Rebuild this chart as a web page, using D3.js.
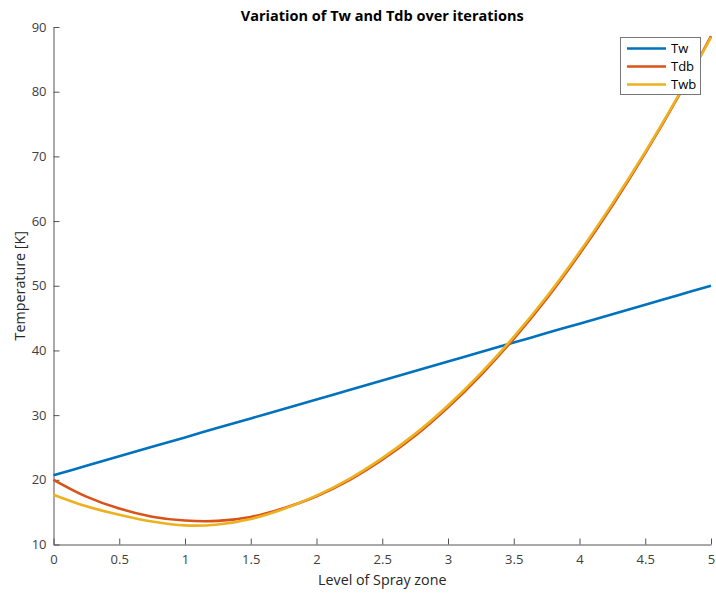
<!DOCTYPE html>
<html><head><meta charset="utf-8">
<script src="https://cdn.jsdelivr.net/npm/d3@7"></script>
<style>body{margin:0;background:#fff}text{font-family:"Open Sans","Noto Sans",sans-serif}</style>
</head><body><svg id="c" width="716" height="597"></svg>
<script>
const xs  = [0,0.25,0.5,0.75,1,1.25,1.5,1.75,2,2.25,2.5,2.75,3,3.25,3.5,3.75,4,4.25,4.5,4.75,5];
const Tw  = [20.7,22.17,23.63,25.1,26.56,28.03,29.49,30.96,32.42,33.89,35.35,36.82,38.28,39.75,41.21,42.68,44.14,45.61,47.07,48.54,50.0];
const Tdb = [20.0,17.4,15.55,14.3,13.7,13.65,14.25,15.6,17.45,19.95,23.1,26.8,31.2,36.2,41.8,48.0,54.9,62.4,70.5,79.2,88.6];
const Twb = [17.7,15.9,14.6,13.55,12.95,13.1,13.95,15.5,17.55,20.15,23.35,27.1,31.5,36.5,42.1,48.3,55.2,62.7,70.7,79.3,88.4];
const seriesNames = ["Tw","Tdb","Twb"];
const xTicks = [0,0.5,1,1.5,2,2.5,3,3.5,4,4.5,5];
const yTicks = [10,20,30,40,50,60,70,80,90];
const colors = ["#0072BD","#D95319","#EDB120"];

const svg = d3.select("#c");
const L=53.5, R=711, T=27, B=544.5;
const x = d3.scaleLinear().domain([0,5]).range([L,R]);
const y = d3.scaleLinear().domain([10,90]).range([B,T]);
const ink="#404040";

const xa = svg.append("g").attr("transform",`translate(0,${B})`)
  .call(d3.axisBottom(x).tickValues(xTicks).tickFormat(d3.format("")).tickSizeInner(-6).tickSizeOuter(0).tickPadding(10));
const ya = svg.append("g").attr("transform",`translate(${L},0)`)
  .call(d3.axisLeft(y).tickValues(yTicks).tickSizeInner(-6).tickSizeOuter(0).tickPadding(7));
[xa,ya].forEach(a=>{
  a.select(".domain").attr("stroke","#555").attr("stroke-width",1);
  a.selectAll(".tick line").attr("stroke","#555");
  a.selectAll(".tick text").attr("fill",ink).attr("font-size",13).attr("font-family","'Open Sans','Noto Sans',sans-serif");
});

const line = d3.line().x((d,i)=>x(xs[i])).y(d=>y(d)).curve(d3.curveCatmullRom);
[Tw,Tdb,Twb].forEach((s,k)=>{
  svg.append("path").datum(s).attr("d",line).attr("fill","none")
    .attr("stroke",colors[k]).attr("stroke-width",2.6);
});

svg.append("text").attr("x",(L+R)/2).attr("y",20.5).attr("text-anchor","middle")
  .attr("font-weight","bold").attr("font-size",14.5).attr("fill","#000")
  .text("Variation of Tw and Tdb over iterations");
svg.append("text").attr("x",(L+R)/2).attr("y",585).attr("text-anchor","middle")
  .attr("font-size",14.3).attr("fill","#262626").text("Level of Spray zone");
svg.append("text").attr("transform",`translate(25,${(T+B)/2}) rotate(-90)`).attr("text-anchor","middle")
  .attr("font-size",14.3).attr("fill","#262626").text("Temperature [K]");

const lg = svg.append("g");
lg.append("rect").attr("x",620.5).attr("y",37.5).attr("width",80).attr("height",57)
  .attr("fill","#fff").attr("stroke","#777").attr("stroke-width",1);
seriesNames.forEach((n,k)=>{
  const yy = 48.5 + k*18;
  lg.append("line").attr("x1",627).attr("x2",666).attr("y1",yy).attr("y2",yy)
    .attr("stroke",colors[k]).attr("stroke-width",2.6);
  lg.append("text").attr("x",671).attr("y",yy+4.5).attr("font-size",13).attr("fill","#000").text(n);
});
</script></body></html>
